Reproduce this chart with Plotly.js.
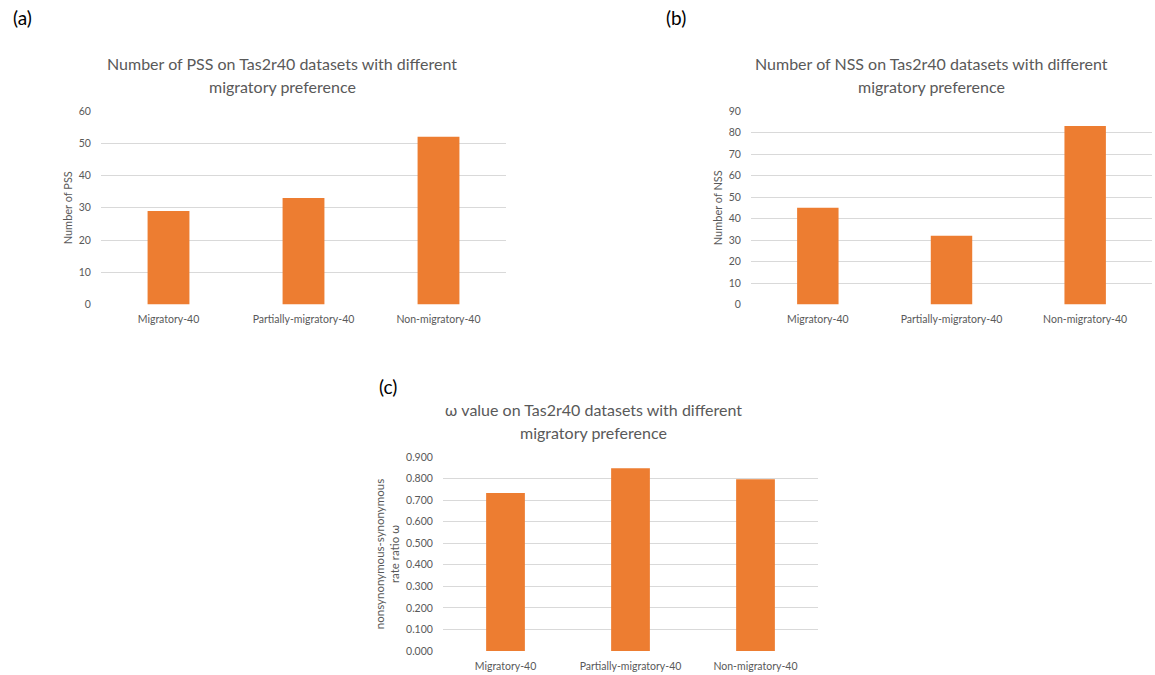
<!DOCTYPE html>
<html>
<head>
<meta charset="utf-8">
<script src="https://cdn.plot.ly/plotly-3.0.1.min.js"></script>
<style>body{margin:0;padding:0;background:#fff;} #chart{width:1155px;height:675px;}</style>
</head>
<body>
<div id="chart"></div>
<script>
const categories = ["Migratory-40", "Partially-migratory-40", "Non-migratory-40"];
const pssValues = [29, 33, 52];
const nssValues = [45, 32, 83];
const omegaValues = [0.733, 0.848, 0.797];

const barColor = "#ED7D31";
const textColor = "#595959";
const gridColor = "#D9D9D9";
const fontFam = "Lato, Liberation Sans, Arial, sans-serif";

function bar(y, xa, ya) {
  return {type: "bar", x: categories, y: y, xaxis: xa, yaxis: ya,
    marker: {color: barColor}, hoverinfo: "skip", showlegend: false};
}

const data = [
  bar(pssValues, "x", "y"),
  bar(nssValues, "x2", "y2"),
  bar(omegaValues, "x3", "y3")
];

function xax(dom, anchor) {
  return {domain: dom, anchor: anchor, showgrid: false, showline: false, zeroline: false,
    ticks: "outside", ticklen: 5, tickcolor: "rgba(0,0,0,0)",
    tickfont: {size: 10.5, color: textColor, family: fontFam}, fixedrange: true};
}
function yax(dom, anchor, range, dtick, fmt, title, standoff, tsize) {
  return {domain: dom, anchor: anchor, range: range, dtick: dtick, tickformat: fmt,
    showgrid: true, gridcolor: gridColor, gridwidth: 1, zeroline: false, showline: false,
    ticks: "outside", ticklen: 7, tickcolor: "rgba(0,0,0,0)",
    tickfont: {size: 10.5, color: textColor, family: fontFam},
    title: {text: title, font: {size: tsize, color: textColor, family: fontFam}, standoff: standoff},
    fixedrange: true};
}

const topDom = [1 - 304.5/675, 1 - 111/675];
const botDom = [1 - 651/675, 1 - 457/675];

function ann(text, x, y, size, color) {
  return {text: text, x: x/1155, y: 1 - y/675, xref: "paper", yref: "paper",
    xanchor: "center", yanchor: "middle", showarrow: false,
    font: {size: size, color: color, family: fontFam}};
}

const layout = {
  width: 1155, height: 675,
  margin: {l: 0, r: 0, t: 0, b: 0},
  paper_bgcolor: "#fff", plot_bgcolor: "#fff",
  bargap: 0.69,
  font: {family: fontFam, color: textColor},
  xaxis: xax([101/1155, 506/1155], "y"),
  yaxis: yax(topDom, "x", [0, 60], 10, "d", "Number of PSS", 3, 11),
  xaxis2: xax([751/1155, 1152/1155], "y2"),
  yaxis2: yax(topDom, "x2", [0, 90], 10, "d", "Number of NSS", 3, 11),
  xaxis3: xax([443/1155, 818/1155], "y3"),
  yaxis3: yax(botDom, "x3", [0, 0.9], 0.1, ".3f", "nonsynonymous-synonymous<br>rate ratio ω", 4, 11.5),
  annotations: [
    ann("(a)", 22, 17, 19, "#000"),
    ann("(b)", 676, 17, 19, "#000"),
    ann("(c)", 388, 386, 19, "#000"),
    ann("Number of PSS on Tas2r40 datasets with different", 282, 63, 16, textColor),
    ann("migratory preference", 282, 86, 16, textColor),
    ann("Number of NSS on Tas2r40 datasets with different", 931, 63, 16, textColor),
    ann("migratory preference", 931, 86, 16, textColor),
    ann("ω value on Tas2r40 datasets with different", 594, 409, 16, textColor),
    ann("migratory preference", 594, 432, 16, textColor)
  ]
};

Plotly.newPlot("chart", data, layout, {displayModeBar: false, staticPlot: true});
</script>
</body>
</html>
